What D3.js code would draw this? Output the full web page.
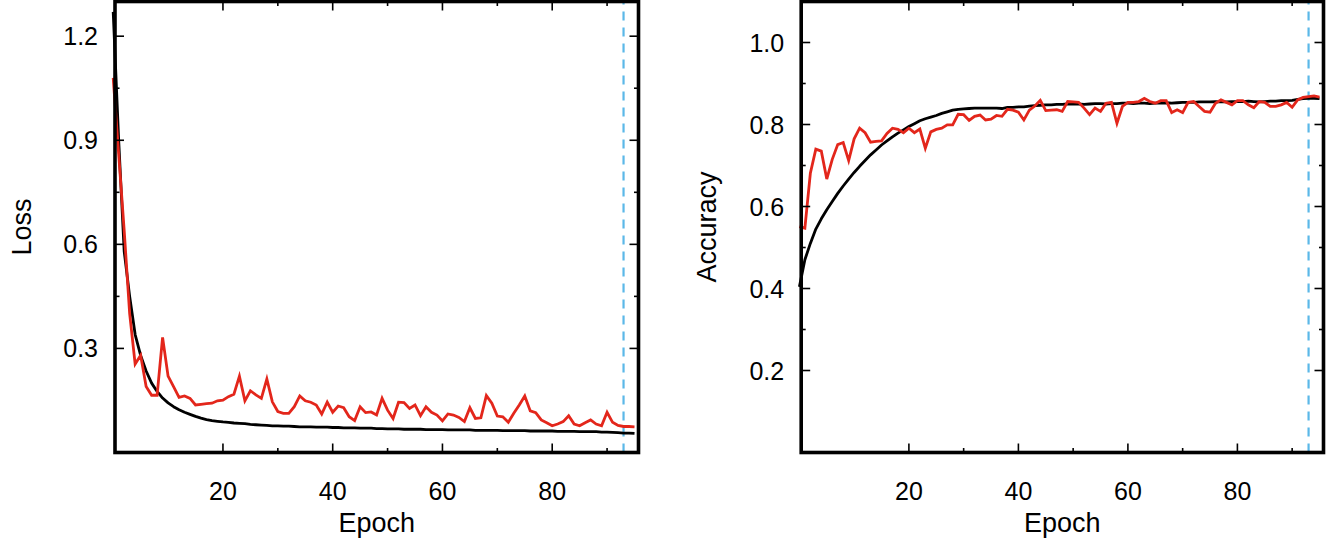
<!DOCTYPE html>
<html>
<head>
<meta charset="utf-8">
<script src="https://cdn.jsdelivr.net/npm/d3@7"></script>
<style>
  body { margin: 0; background: #fff; }
  text { font-family: "Liberation Sans", Arial, Helvetica, sans-serif; fill: #000; }
</style>
</head>
<body>
<div id="chart"></div>
<script>
// Training curves, one value per epoch (epoch 0 .. 95)
var trainLoss = [1.27, 0.90, 0.58, 0.45, 0.34, 0.28, 0.235, 0.20, 0.176, 0.157,
  0.143, 0.132, 0.123, 0.116, 0.110, 0.104, 0.099, 0.095, 0.092, 0.090,
  0.088, 0.087, 0.085, 0.084, 0.083, 0.081, 0.080, 0.079, 0.078, 0.077,
  0.077, 0.076, 0.076, 0.075, 0.074, 0.074, 0.074, 0.073, 0.073, 0.073,
  0.072, 0.072, 0.071, 0.071, 0.071, 0.070, 0.070, 0.070, 0.069, 0.069,
  0.068, 0.068, 0.068, 0.067, 0.067, 0.067, 0.067, 0.066, 0.066, 0.066,
  0.066, 0.065, 0.065, 0.065, 0.065, 0.065, 0.064, 0.064, 0.064, 0.064,
  0.064, 0.063, 0.063, 0.063, 0.063, 0.063, 0.062, 0.062, 0.062, 0.062,
  0.062, 0.061, 0.061, 0.061, 0.061, 0.060, 0.060, 0.060, 0.060, 0.059,
  0.059, 0.058, 0.057, 0.056, 0.056, 0.055];

var valLoss = [1.08, 0.86, 0.64, 0.40, 0.255, 0.28, 0.19, 0.165, 0.165, 0.332,
  0.220, 0.190, 0.159, 0.163, 0.156, 0.137, 0.139, 0.141, 0.142, 0.149,
  0.151, 0.161, 0.168, 0.220, 0.149, 0.178, 0.166, 0.156, 0.212, 0.146,
  0.118, 0.113, 0.113, 0.132, 0.163, 0.149, 0.145, 0.137, 0.111, 0.145,
  0.116, 0.134, 0.129, 0.103, 0.092, 0.132, 0.115, 0.117, 0.108, 0.156,
  0.122, 0.098, 0.145, 0.144, 0.127, 0.137, 0.106, 0.132, 0.116, 0.108,
  0.091, 0.111, 0.108, 0.101, 0.089, 0.129, 0.098, 0.100, 0.164, 0.142,
  0.105, 0.103, 0.087, 0.113, 0.137, 0.163, 0.120, 0.115, 0.094, 0.086,
  0.077, 0.082, 0.089, 0.106, 0.082, 0.077, 0.086, 0.094, 0.082, 0.077,
  0.116, 0.087, 0.078, 0.075, 0.075, 0.074];

var trainAcc = [0.404, 0.47, 0.51, 0.545, 0.57, 0.592, 0.612, 0.632, 0.65, 0.667,
  0.683, 0.698, 0.712, 0.726, 0.738, 0.750, 0.760, 0.770, 0.779, 0.787,
  0.795, 0.802, 0.809, 0.814, 0.818, 0.822, 0.827, 0.831, 0.835, 0.837,
  0.838, 0.839, 0.840, 0.840, 0.840, 0.840, 0.840, 0.839, 0.842, 0.842,
  0.843, 0.843, 0.845, 0.846, 0.847, 0.848, 0.848, 0.849, 0.849, 0.850,
  0.850, 0.850, 0.849, 0.850, 0.851, 0.851, 0.850, 0.851, 0.851, 0.852,
  0.852, 0.851, 0.852, 0.852, 0.851, 0.852, 0.852, 0.853, 0.852, 0.853,
  0.854, 0.854, 0.854, 0.855, 0.855, 0.855, 0.856, 0.855, 0.855, 0.856,
  0.856, 0.856, 0.857, 0.856, 0.855, 0.856, 0.857, 0.857, 0.858, 0.858,
  0.859, 0.861, 0.863, 0.864, 0.864, 0.863];

var valAcc = [0.551, 0.547, 0.681, 0.740, 0.735, 0.667, 0.715, 0.751, 0.756, 0.712,
  0.765, 0.791, 0.780, 0.757, 0.759, 0.760, 0.778, 0.791, 0.788, 0.780,
  0.791, 0.780, 0.789, 0.742, 0.782, 0.788, 0.791, 0.799, 0.799, 0.825,
  0.824, 0.810, 0.820, 0.823, 0.811, 0.813, 0.822, 0.820, 0.837, 0.835,
  0.830, 0.811, 0.835, 0.845, 0.859, 0.834, 0.835, 0.836, 0.832, 0.856,
  0.855, 0.854, 0.840, 0.824, 0.840, 0.832, 0.852, 0.854, 0.803, 0.844,
  0.854, 0.854, 0.856, 0.864, 0.856, 0.852, 0.858, 0.858, 0.829, 0.836,
  0.829, 0.854, 0.856, 0.844, 0.832, 0.830, 0.852, 0.860, 0.854, 0.848,
  0.858, 0.858, 0.848, 0.841, 0.856, 0.854, 0.844, 0.844, 0.848, 0.854,
  0.842, 0.860, 0.866, 0.868, 0.870, 0.867];

// axis ticks
var xMajor = [20, 40, 60, 80];
var xMinor = [30, 50, 70, 90];
var lossMajor = [0.3, 0.6, 0.9, 1.2];
var lossMinor = [0.45, 0.75, 1.05];
var accMajor = [0.2, 0.4, 0.6, 0.8, 1.0];
var accMinor = [0.3, 0.5, 0.7, 0.9];
var bestEpoch = 93;

var svgWidth = 1327;
var svgHeight = 540;

var svg = d3.select("#chart")
  .append("svg")
  .attr("width", svgWidth)
  .attr("height", svgHeight);

function drawPanel(opt) {
  var x = d3.scaleLinear().domain([0, 96]).range([opt.left, opt.right]);
  var y = d3.scaleLinear().domain(opt.yDomain).range([452.5, 1.5]);
  var g = svg.append("g");

  var x0 = x(0) + 1.8, x1 = opt.right - 1.5;
  var y0 = y.range()[0], y1 = y.range()[1];

  // best epoch marker
  g.append("line")
    .attr("x1", x(bestEpoch)).attr("x2", x(bestEpoch))
    .attr("y1", y0).attr("y2", y1)
    .attr("stroke", "#5bb8e8")
    .attr("stroke-width", 2.2)
    .attr("stroke-dasharray", "9,7");

  var line = d3.line()
    .x(function(d, i) { return x(i); })
    .y(function(d) { return y(d); });

  g.append("path")
    .datum(opt.train)
    .attr("d", line)
    .attr("fill", "none")
    .attr("stroke", "#000")
    .attr("stroke-width", 2.8)
    .attr("stroke-linejoin", "round");

  g.append("path")
    .datum(opt.val)
    .attr("d", line)
    .attr("fill", "none")
    .attr("stroke", "#e3261b")
    .attr("stroke-width", 2.8)
    .attr("stroke-linejoin", "miter");

  // inward ticks on all four sides
  function ticks(vals, len) {
    vals.forEach(function(v) {
      g.append("line").attr("x1", x(v)).attr("x2", x(v))
        .attr("y1", y0).attr("y2", y0 - len).attr("stroke", "#000").attr("stroke-width", 1.6);
      g.append("line").attr("x1", x(v)).attr("x2", x(v))
        .attr("y1", y1).attr("y2", y1 + len).attr("stroke", "#000").attr("stroke-width", 1.6);
    });
  }
  function yticks(vals, len) {
    vals.forEach(function(v) {
      g.append("line").attr("x1", x0).attr("x2", x0 + len)
        .attr("y1", y(v)).attr("y2", y(v)).attr("stroke", "#000").attr("stroke-width", 1.6);
      g.append("line").attr("x1", x1).attr("x2", x1 - len)
        .attr("y1", y(v)).attr("y2", y(v)).attr("stroke", "#000").attr("stroke-width", 1.6);
    });
  }
  ticks(xMajor, 9);
  ticks(xMinor, 4.5);
  yticks(opt.yMajor, 9);
  yticks(opt.yMinor, 4.5);

  // frame
  g.append("rect")
    .attr("x", x0).attr("y", y1)
    .attr("width", x1 - x0).attr("height", y0 - y1)
    .attr("fill", "none")
    .attr("stroke", "#000")
    .attr("stroke-width", 3.6);

  // tick labels
  g.selectAll(".xl").data(xMajor).enter().append("text")
    .attr("x", function(d) { return x(d); })
    .attr("y", 500)
    .attr("text-anchor", "middle")
    .style("font-size", "25px")
    .text(function(d) { return d; });

  g.selectAll(".yl").data(opt.yMajor).enter().append("text")
    .attr("x", x0 - 17)
    .attr("y", function(d) { return y(d) + 9; })
    .attr("text-anchor", "end")
    .style("font-size", "25px")
    .text(function(d) { return d.toFixed(1); });

  // axis titles
  g.append("text")
    .attr("x", (x0 + x1) / 2)
    .attr("y", 532)
    .attr("text-anchor", "middle")
    .style("font-size", "27px")
    .text("Epoch");

  g.append("text")
    .attr("transform", "translate(" + opt.titleX + "," + ((y0 + y1) / 2) + ") rotate(-90)")
    .attr("text-anchor", "middle")
    .style("font-size", "27px")
    .text(opt.title);
}

drawPanel({
  left: 113.2, right: 640, yDomain: [0, 1.3],
  train: trainLoss, val: valLoss,
  yMajor: lossMajor, yMinor: lossMinor,
  title: "Loss", titleX: 31
});

drawPanel({
  left: 799.4, right: 1325, yDomain: [0, 1.1],
  train: trainAcc, val: valAcc,
  yMajor: accMajor, yMinor: accMinor,
  title: "Accuracy", titleX: 716
});
</script>
</body>
</html>
